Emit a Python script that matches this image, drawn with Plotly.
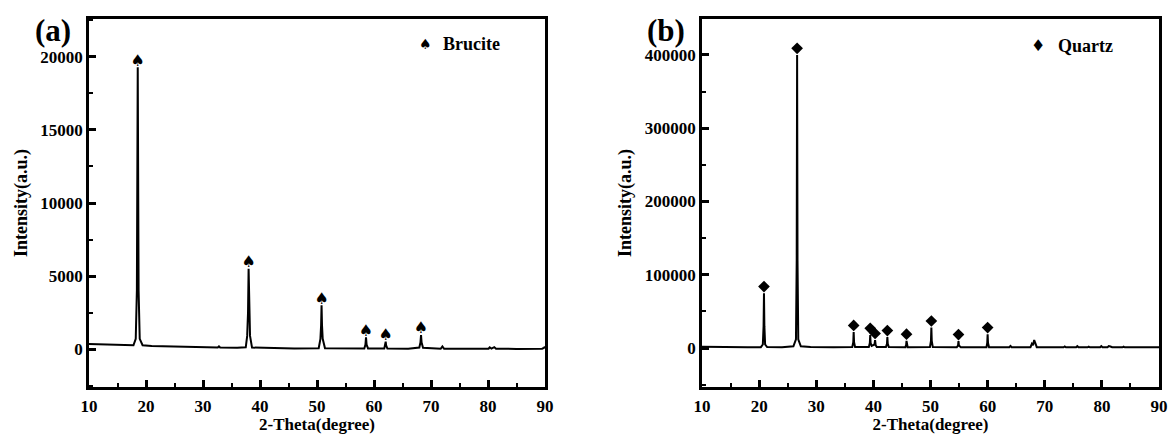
import plotly.graph_objects as go

# ---------------- (a) Brucite sample ----------------
two_theta_a = [
    10.0, 12.0, 14.0, 16.0, 17.8, 18.2, 18.4, 18.55, 18.7, 18.9, 19.4,
    21.0, 24.0, 28.0, 32.6, 32.8, 33.0, 36.0,
    37.5, 37.75, 37.9, 38.0, 38.1, 38.25, 38.6,
    42.0, 46.0, 50.3, 50.6, 50.72, 50.8, 50.88, 51.0, 51.4,
    55.0, 58.3, 58.5, 58.6, 58.7, 58.95,
    61.8, 61.97, 62.05, 62.13, 62.35,
    66.0, 67.95, 68.15, 68.25, 68.35, 68.6,
    71.7, 72.0, 72.3, 76.0, 80.1, 80.3, 80.6, 81.1, 81.4,
    85.0, 89.5, 89.8, 90.0,
]
intensity_a = [
    350, 330, 300, 270, 260, 700, 4000, 19300, 4000, 700, 260,
    210, 170, 130, 100, 180, 100, 80,
    120, 900, 2500, 5500, 2500, 900, 100,
    50, 40, 60, 700, 1600, 3000, 1600, 700, 60,
    40, 40, 300, 800, 300, 40,
    30, 250, 500, 250, 30,
    20, 100, 450, 960, 450, 80,
    20, 180, 20, 10, 20, 120, 30, 130, 20,
    10, 20, 80, 150,
]
brucite_peak_pos = [18.55, 38.0, 50.8, 58.6, 62.05, 68.25]
brucite_peak_int = [19300, 5500, 3000, 800, 500, 960]

# ---------------- (b) Quartz sample ----------------
two_theta_b = [
    10.0, 12.0, 15.0, 18.0, 20.3, 20.65, 20.78, 20.85, 20.92, 21.05, 21.4,
    24.0, 26.0, 26.45, 26.58, 26.65, 26.72, 26.85, 27.3, 29.0, 33.0,
    36.3, 36.48, 36.55, 36.62, 36.8,
    39.2, 39.38, 39.45, 39.52, 39.7, 40.2, 40.3, 40.4, 40.6,
    42.2, 42.38, 42.45, 42.52, 42.7,
    45.6, 45.73, 45.8, 45.87, 46.0,
    49.9, 50.08, 50.15, 50.22, 50.4,
    54.6, 54.82, 54.9, 54.98, 55.3,
    59.8, 59.93, 60.0, 60.07, 60.25,
    63.8, 64.0, 64.2, 67.5, 67.75, 67.95, 68.15, 68.35, 68.6,
    73.3, 73.5, 73.7, 75.5, 75.7, 75.9, 77.5, 77.7, 77.9,
    79.7, 79.9, 80.1, 81.0, 81.2, 81.5, 81.8, 83.6, 83.8, 84.0, 90.0,
]
intensity_b = [
    1800, 1500, 1300, 1200, 1300, 5000, 30000, 75000, 30000, 5000, 1400,
    1300, 2500, 12000, 120000, 400000, 120000, 12000, 2500, 1400, 1200,
    1400, 8000, 22000, 8000, 1400,
    1400, 7000, 18000, 7000, 3000, 5000, 11000, 4000, 1400,
    1400, 6000, 15000, 6000, 1400,
    1300, 4000, 10000, 4000, 1300,
    1400, 10000, 28000, 10000, 1400,
    1300, 3500, 9500, 3500, 1300,
    1300, 7000, 19000, 7000, 1300,
    1200, 3000, 1200, 1300, 6000, 4000, 11000, 7000, 1300,
    1200, 2200, 1200, 1200, 2800, 1200, 1200, 2000, 1200,
    1200, 2800, 1200, 1300, 2800, 2200, 1200, 1200, 2000, 1200, 1200,
]
quartz_peak_pos = [20.85, 26.65, 36.55, 39.45, 40.3, 42.45, 45.8, 50.15, 54.9, 60.0]
quartz_peak_int = [75000, 400000, 22000, 18000, 11000, 15000, 10000, 28000, 9500, 19000]

x_ticks = [10, 20, 30, 40, 50, 60, 70, 80, 90]
y_ticks_a = [0, 5000, 10000, 15000, 20000]
y_ticks_b = [0, 100000, 200000, 300000, 400000]

# marker lift above each peak tip (data units)
SPADE_PAD = 380
DIAMOND_PAD = 9000

SERIF = "Liberation Serif"
W, H = 1171, 434

fig = go.Figure()

fig.add_trace(go.Scatter(x=two_theta_a, y=intensity_a, mode="lines",
                         line=dict(color="black", width=2),
                         xaxis="x", yaxis="y", showlegend=False))
fig.add_trace(go.Scatter(x=brucite_peak_pos,
                         y=[v + SPADE_PAD for v in brucite_peak_int],
                         mode="text", text=["♠"] * len(brucite_peak_pos),
                         textposition="middle center",
                         textfont=dict(family="DejaVu Sans", size=16, color="black"),
                         xaxis="x", yaxis="y", showlegend=False))

fig.add_trace(go.Scatter(x=two_theta_b, y=intensity_b, mode="lines",
                         line=dict(color="black", width=2),
                         xaxis="x2", yaxis="y2", showlegend=False))
fig.add_trace(go.Scatter(x=quartz_peak_pos,
                         y=[v + DIAMOND_PAD for v in quartz_peak_int],
                         mode="markers",
                         marker=dict(symbol="diamond", size=9, color="black"),
                         xaxis="x2", yaxis="y2", showlegend=False))

tickfont = dict(family=SERIF, size=17, color="black", weight="bold")
xtitlefont = dict(family=SERIF, size=17, color="black", weight="bold")
ytitlefont = dict(family=SERIF, size=18, color="black", weight="bold")
common = dict(showline=True, linewidth=2.5, linecolor="black", mirror=True,
              ticks="inside", ticklen=7, tickwidth=2.5, tickcolor="black",
              showgrid=False, zeroline=False, tickfont=tickfont,
              automargin=False)


def xaxis_cfg(domain):
    return dict(common, domain=domain, range=[10, 90], tickvals=x_ticks,
                ticklabelstandoff=2,
                minor=dict(ticks="inside", ticklen=4, tickwidth=2,
                           tickcolor="black", dtick=5, tick0=10),
                title=dict(text="2-Theta(degree)", font=xtitlefont, standoff=1))


def yaxis_cfg(domain, rng, ticks, minor_step, anchor):
    return dict(common, domain=domain, range=rng, tickvals=ticks,
                tickformat="d", anchor=anchor,
                minor=dict(ticks="inside", ticklen=4, tickwidth=2,
                           tickcolor="black", dtick=minor_step, tick0=0),
                title=dict(text="Intensity(a.u.)", font=ytitlefont, standoff=9))


ydom = [(H - 387) / H, (H - 19) / H]
fig.update_layout(
    width=W, height=H,
    margin=dict(l=0, r=0, t=0, b=0),
    paper_bgcolor="white", plot_bgcolor="white",
    xaxis=dict(xaxis_cfg([89 / W, 545 / W]), anchor="y"),
    yaxis=yaxis_cfg(ydom, [-2600, 22600], y_ticks_a, 2500, "x"),
    xaxis2=dict(xaxis_cfg([702 / W, 1159 / W]), anchor="y2"),
    yaxis2=yaxis_cfg(ydom, [-53000, 449000], y_ticks_b, 50000, "x2"),
)


def label(x_px, y_px, text, size, anchor="left"):
    fig.add_annotation(x=x_px / W, y=1 - y_px / H, xref="paper", yref="paper",
                       text=text, showarrow=False, xanchor=anchor, yanchor="middle",
                       font=dict(family=SERIF, size=size, color="black", weight="bold"))


label(33, 31, "(a)", 31)
label(645, 31, "(b)", 31)

label(441, 44, "Brucite", 18)
label(1056, 46, "Quartz", 18)
fig.add_annotation(x=425 / W, y=1 - 44 / H, xref="paper", yref="paper", text="♠",
                   showarrow=False, xanchor="center", yanchor="middle",
                   font=dict(family="DejaVu Sans", size=14, color="black"))
fig.add_annotation(x=1038 / W, y=1 - 46 / H, xref="paper", yref="paper", text="♦",
                   showarrow=False, xanchor="center", yanchor="middle",
                   font=dict(family="DejaVu Sans", size=16, color="black"))

fig.write_html("out.html")
